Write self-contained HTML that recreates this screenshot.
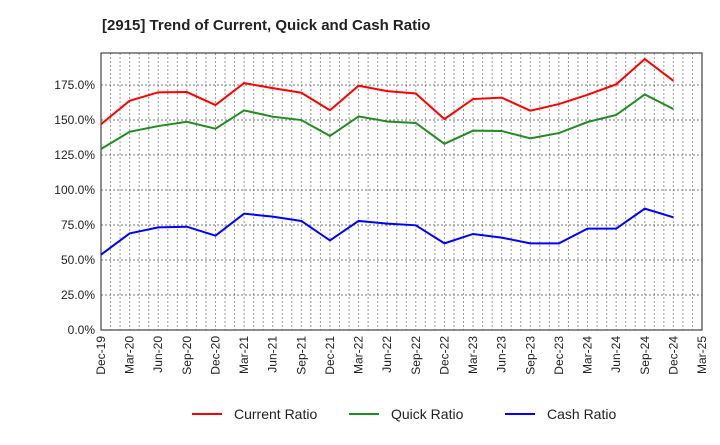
<!DOCTYPE html>
<html><head><meta charset="utf-8"><style>
body{margin:0;background:#fff;font-family:"Liberation Sans",sans-serif;}
</style></head><body>
<svg width="720" height="440" xmlns="http://www.w3.org/2000/svg" id="chart" font-family="Liberation Sans, sans-serif">
<text x="102" y="30" font-size="15" font-weight="bold" fill="#222">[2915]  Trend of Current, Quick and Cash Ratio</text>
<g id="grid"></g><g id="axes"></g><g id="series"></g><g id="legend"></g>
</svg>
<script>
const xLabels=["Dec-19","Mar-20","Jun-20","Sep-20","Dec-20","Mar-21","Jun-21","Sep-21","Dec-21","Mar-22","Jun-22","Sep-22","Dec-22","Mar-23","Jun-23","Sep-23","Dec-23","Mar-24","Jun-24","Sep-24","Dec-24","Mar-25"];
const yTicks=[0,25,50,75,100,125,150,175];
const currentRatio=[147,163.8,169.8,170,160.7,176.4,172.8,169.5,157,174.5,170.7,169,150.7,165,166,156.7,161.4,168,175.5,193.6,178];
const quickRatio=[129.3,141.6,145.7,148.8,143.8,156.9,152.4,150,138.6,152.6,149,147.9,133,142.4,142.2,136.9,140.7,148.6,153.6,168.3,157.9];
const cashRatio=[53.8,69,73.3,73.8,67.4,83.1,81,77.9,64,77.9,76,74.8,61.9,68.6,66,61.9,61.9,72.4,72.4,86.7,80.5];
const L=101,R=702,T=53,B=330,YMAX=197.9;
const NS="http://www.w3.org/2000/svg";
const xq=i=>L+i*(R-L)/21;
const y=v=>B-v/YMAX*(B-T);
function mk(tag,attrs,parent){const e=document.createElementNS(NS,tag);for(const k in attrs)e.setAttribute(k,attrs[k]);parent.appendChild(e);return e;}
const grid=document.getElementById('grid'),axes=document.getElementById('axes'),series=document.getElementById('series'),legend=document.getElementById('legend');
for(let m=1;m<63;m++){const x=L+m*(R-L)/63;const g=mk('line',{x1:x,x2:x,y1:T,y2:B,stroke:'#999','stroke-dasharray':'2,2','stroke-width':1},grid);

}
yTicks.forEach(v=>{if(v>0){const g=mk('line',{x1:L,x2:R,y1:y(v),y2:y(v),stroke:'#777','stroke-dasharray':'2,2','stroke-width':1},grid);

}
const t=mk('text',{x:L-6,y:y(v)+4,'font-size':12,'text-anchor':'end',fill:'#222'},axes);t.textContent=v.toFixed(1)+'%';

});
const fr=mk('rect',{x:L,y:T,width:R-L,height:B-T,fill:'none',stroke:'#444','stroke-width':1.2},axes);


xLabels.forEach((s,i)=>{const x=xq(i);const t=mk('text',{transform:`translate(${x+4},${B+6}) rotate(-90)`,'font-size':12,'text-anchor':'end',fill:'#222'},axes);t.textContent=s;

});
[[currentRatio,'#ff0000','current-ratio-line'],[quickRatio,'#228b22','quick-ratio-line'],[cashRatio,'#0000ff','cash-ratio-line']].forEach(([d,c,n])=>{
const p=mk('polyline',{points:d.map((v,i)=>xq(i)+','+y(v)).join(' '),fill:'none',stroke:c,'stroke-width':2},series);

});
[['Current Ratio','#ff0000',192],['Quick Ratio','#228b22',349],['Cash Ratio','#0000ff',505]].forEach(([s,c,x])=>{
const l=mk('line',{x1:x,x2:x+30,y1:414,y2:414,stroke:c,'stroke-width':2},legend);


const t=mk('text',{x:x+42,y:419,'font-size':14,fill:'#222'},legend);t.textContent=s;

});
</script>
</body></html>
